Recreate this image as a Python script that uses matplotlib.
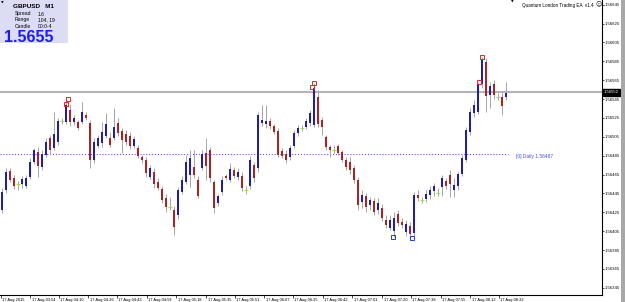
import matplotlib
matplotlib.use("Agg")
import matplotlib.pyplot as plt
import matplotlib.transforms as mtransforms
from matplotlib.patches import Rectangle
import numpy as np

plt.rcParams['font.family'] = ['Liberation Sans', 'DejaVu Sans']

# GBPUSD M1 candles, prices in points (1e-5)
opens_pts = [
    156427, 156449, 156469, 156461, 156455, 156455, 156453, 156462, 156478, 156489,
    156473, 156486, 156504, 156493, 156499, 156522, 156521, 156533, 156521, 156521,
    156521, 156528, 156520, 156480, 156495, 156498, 156506, 156504, 156504, 156520,
    156511, 156508, 156506, 156495, 156493, 156484, 156480, 156462, 156468, 156457,
    156450, 156440, 156431, 156427, 156422, 156446, 156457, 156464, 156473, 156459,
    156472, 156488, 156491, 156457, 156435, 156446, 156463, 156459, 156470, 156462,
    156463, 156449, 156453, 156475, 156472, 156520, 156519, 156522, 156516, 156511,
    156490, 156487, 156484, 156495, 156509, 156514, 156515, 156520, 156518, 156547,
    156523, 156505, 156494, 156491, 156495, 156489, 156480, 156478, 156472, 156459,
    156436, 156442, 156433, 156437, 156427, 156430, 156417, 156408, 156405, 156423,
    156415, 156404, 156410, 156403, 156443, 156438, 156439, 156443, 156448, 156445,
    156452, 156458, 156464, 156449, 156453, 156466, 156480, 156510, 156530, 156531,
    156561, 156584, 156549, 156561, 156547, 156547, 156547]
highs_pts = [
    156451, 156472, 156472, 156464, 156458, 156463, 156464, 156482, 156493, 156494,
    156491, 156504, 156507, 156531, 156525, 156525, 156545, 156540, 156528, 156523,
    156542, 156531, 156523, 156504, 156507, 156521, 156530, 156510, 156536, 156525,
    156514, 156512, 156510, 156506, 156496, 156486, 156484, 156475, 156472, 156461,
    156453, 156444, 156441, 156432, 156452, 156463, 156486, 156491, 156491, 156463,
    156491, 156504, 156494, 156459, 156444, 156463, 156466, 156477, 156473, 156472,
    156468, 156453, 156485, 156478, 156531, 156539, 156539, 156525, 156519, 156514,
    156493, 156491, 156496, 156512, 156518, 156518, 156525, 156533, 156562, 156555,
    156526, 156507, 156496, 156496, 156497, 156491, 156484, 156484, 156475, 156462,
    156449, 156445, 156441, 156440, 156440, 156434, 156422, 156422, 156425, 156427,
    156419, 156417, 156415, 156446, 156449, 156441, 156449, 156453, 156456, 156451,
    156464, 156461, 156470, 156461, 156468, 156486, 156515, 156536, 156544, 156563,
    156590, 156588, 156563, 156565, 156551, 156552, 156563]
lows_pts = [
    156424, 156445, 156457, 156450, 156449, 156451, 156451, 156460, 156476, 156462,
    156470, 156484, 156486, 156491, 156496, 156519, 156519, 156516, 156518, 156512,
    156519, 156523, 156472, 156477, 156493, 156494, 156504, 156494, 156502, 156506,
    156488, 156496, 156492, 156493, 156482, 156477, 156462, 156460, 156451, 156449,
    156435, 156425, 156427, 156401, 156418, 156444, 156455, 156452, 156461, 156440,
    156470, 156459, 156457, 156424, 156432, 156443, 156459, 156457, 156461, 156459,
    156448, 156444, 156450, 156457, 156468, 156516, 156514, 156513, 156508, 156484,
    156482, 156477, 156480, 156493, 156506, 156511, 156513, 156516, 156515, 156515,
    156507, 156491, 156484, 156488, 156486, 156478, 156470, 156466, 156456, 156427,
    156430, 156425, 156427, 156422, 156423, 156416, 156408, 156406, 156399, 156410,
    156408, 156400, 156398, 156400, 156437, 156435, 156436, 156439, 156442, 156442,
    156442, 156450, 156441, 156441, 156449, 156463, 156478, 156507, 156526, 156529,
    156557, 156531, 156535, 156545, 156544, 156528, 156544]
closes_pts = [
    156446, 156468, 156459, 156453, 156455, 156460, 156461, 156478, 156491, 156474,
    156487, 156500, 156491, 156508, 156522, 156522, 156539, 156521, 156525, 156514,
    156531, 156525, 156480, 156499, 156504, 156510, 156519, 156496, 156515, 156509,
    156502, 156499, 156495, 156503, 156485, 156480, 156467, 156472, 156455, 156451,
    156438, 156431, 156431, 156409, 156449, 156459, 156478, 156482, 156464, 156442,
    156487, 156474, 156461, 156430, 156442, 156459, 156461, 156471, 156463, 156468,
    156451, 156449, 156480, 156461, 156528, 156523, 156522, 156516, 156510, 156486,
    156485, 156480, 156493, 156509, 156514, 156514, 156522, 156530, 156557, 156519,
    156515, 156494, 156491, 156491, 156488, 156480, 156473, 156470, 156459, 156433,
    156443, 156431, 156438, 156425, 156435, 156419, 156411, 156417, 156419, 156414,
    156411, 156413, 156402, 156443, 156440, 156438, 156444, 156449, 156453, 156445,
    156461, 156453, 156455, 156454, 156466, 156482, 156512, 156531, 156539, 156561,
    156586, 156548, 156559, 156549, 156547, 156538, 156551]

# fractal squares (bar, price in points)
hi_mark_bars = [16, 16.5, 77.5, 78, 119.25, 120]
hi_mark_pts = [156540, 156545, 156558, 156562, 156563, 156590]
lo_mark_bars = [97.75, 102.5]
lo_mark_pts = [156399, 156398]

bid = 1.56552
daily = 1.56487

time_tick_bars = [-0.25, 7, 14.25, 21.5, 28.75, 36.25, 43.5, 51, 58.25, 65.5,
                  72.75, 80.25, 87.5, 95, 102.25, 109.75, 117, 124.25]
time_labels = ["17 Aug 2015", "17 Aug 03:54", "17 Aug 04:10", "17 Aug 04:26",
               "17 Aug 04:43", "17 Aug 04:59", "17 Aug 05:18", "17 Aug 05:35",
               "17 Aug 05:51", "17 Aug 06:07", "17 Aug 06:25", "17 Aug 06:42",
               "17 Aug 07:01", "17 Aug 07:20", "17 Aug 07:38", "17 Aug 07:55",
               "17 Aug 08:12", "17 Aug 08:32"]

o = np.array(opens_pts) / 1e5
h = np.array(highs_pts) / 1e5
l = np.array(lows_pts) / 1e5
c = np.array(closes_pts) / 1e5
idx = np.arange(len(o))

W, H = 625, 302
fig = plt.figure(figsize=(W / 100, H / 100), dpi=100)
fig.patch.set_facecolor('white')
ax = fig.add_axes([0, 7 / H, 602 / W, 295 / H])

# bid line and daily level
ax.axhline(bid, color='#b4b4b4', lw=1.5, zorder=1)
ax.hlines(daily, -0.5, len(o) - 0.5, color='#3a3aff', lw=0.7,
          linestyles=(0, (1, 2)), zorder=1)
ax.annotate("[0] Daily 1.56487", xy=(128.5, daily), xytext=(0, -2),
            textcoords='offset points', color='#4a4aff', fontsize=3.5,
            va='center', ha='left')

# candles
up = c > o
dn = c < o
fl = c == o
ax.vlines(idx, l, h, color='#a6a6a6', lw=0.7, zorder=2)
ax.bar(idx[up], c[up] - o[up], bottom=o[up], width=0.55, color='#1e1eaa',
       linewidth=0, zorder=3)
ax.bar(idx[dn], o[dn] - c[dn], bottom=c[dn], width=0.55, color='#aa2222',
       linewidth=0, zorder=3)
ax.hlines(o[fl], idx[fl] - 0.45, idx[fl] + 0.45, color='#9ae632', lw=0.8, zorder=3)

# fractal squares
ax.plot(hi_mark_bars, np.array(hi_mark_pts) / 1e5, 's', mfc='none',
        mec='#e02828', ms=3.4, mew=0.7, zorder=4)
ax.plot(lo_mark_bars, np.array(lo_mark_pts) / 1e5, 's', mfc='none',
        mec='#2838e0', ms=3.4, mew=0.7, zorder=4)

ax.set_xlim(-0.5, 150)
ax.set_ylim(1.563373, 1.56650)

# axes styling
for s in ['left', 'top']:
    ax.spines[s].set_visible(False)
for s in ['right', 'bottom']:
    ax.spines[s].set_color('black')
    ax.spines[s].set_linewidth(0.8)

ax.yaxis.tick_right()
yt = np.arange(156345, 156646, 20) / 1e5
ax.set_yticks(yt)
ax.set_yticklabels([f"{v:.5f}" for v in yt])
ax.tick_params(axis='y', direction='out', length=1.5, width=0.5, pad=0.6,
               labelsize=3.05, colors='black')

ax.set_xticks(time_tick_bars)
ax.set_xticklabels(time_labels)
ax.tick_params(axis='x', direction='out', length=2, width=0.5, pad=0,
               labelsize=2.9, colors='black')
shift = mtransforms.ScaledTranslation(1.5 / 100, 0, fig.dpi_scale_trans)
for lbl in ax.get_xticklabels():
    lbl.set_ha('left')
    lbl.set_transform(lbl.get_transform() + shift)

# current price tag
ax.annotate(f"{bid:.5f}", xy=(1, bid), xycoords=('axes fraction', 'data'),
            xytext=(1.2, 0), textcoords='offset points', color='white',
            fontsize=3.05, va='center', ha='left',
            bbox=dict(boxstyle='square,pad=0.25', fc='black', ec='black'))

# info panel top-left
def fx(px):
    return px / W


def fy(py):
    return 1 - py / H


fig.patches.append(Rectangle((0, fy(43)), fx(68), 43 / H, transform=fig.transFigure,
                             facecolor='#dcdcf4', edgecolor='none', zorder=5))
fig.text(fx(1), fy(3), "▼", fontsize=2.5, color='black', va='center',
         family='DejaVu Sans', zorder=6)
fig.text(fx(13), fy(7), "GBPUSD   M1", fontsize=4.6, fontweight='bold',
         color='black', va='center', zorder=6)
for py, name, val in [(14, "Spread", "1.6"), (20, "Range", "104, 19"),
                      (26, "Candle", "00:0-4")]:
    fig.text(fx(15), fy(py), name, fontsize=3.6, color='black', va='center', zorder=6)
    fig.text(fx(38), fy(py), val, fontsize=3.6, color='black', va='center', zorder=6)
fig.text(fx(4), fy(37), "1.5655", fontsize=11.5, fontweight='bold',
         color='#1a1aff', va='center', zorder=6)

# EA label top-right
fig.text(fx(511), fy(2), "▼", fontsize=2.5, color='black', va='center',
         family='DejaVu Sans')
fig.text(fx(594), fy(5), "Quantum London Trading EA  v1.4", fontsize=3.3,
         color='black', va='center', ha='right')
fig.text(fx(595), fy(5), "☺", fontsize=4.3, color='black', va='center',
         ha='left', family='DejaVu Sans')

# right window border
fig.patches.append(Rectangle((fx(621), 0), fx(4), 1, transform=fig.transFigure,
                             facecolor='#a8a8a8', edgecolor='none'))

fig.savefig('out.png', dpi=100)
